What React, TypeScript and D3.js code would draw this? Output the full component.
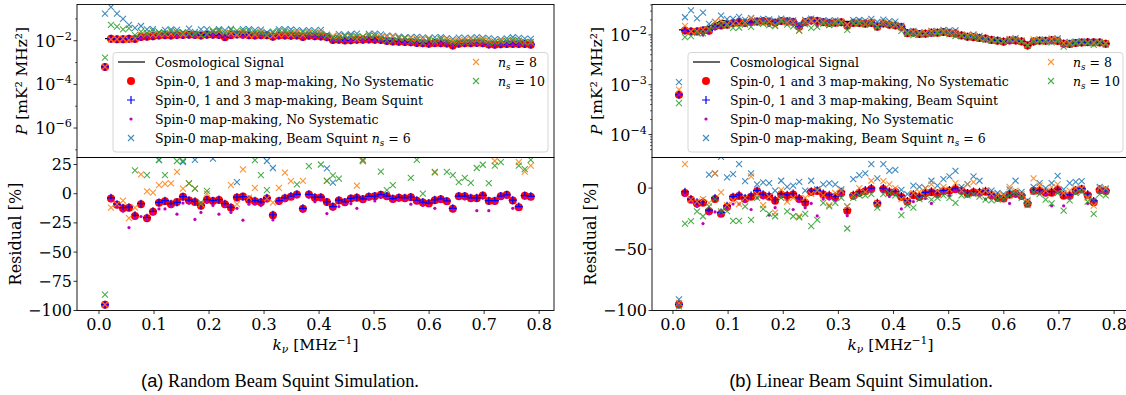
import React from 'react';
import * as d3 from 'd3';

// k_nu grid [MHz^-1]
const K = [
  0.0109, 0.0218, 0.0327, 0.0436, 0.0545, 0.0654, 0.0763, 0.0872, 0.0981, 0.1090,
  0.1199, 0.1308, 0.1417, 0.1526, 0.1635, 0.1744, 0.1853, 0.1962, 0.2071, 0.2180,
  0.2289, 0.2398, 0.2507, 0.2616, 0.2725, 0.2834, 0.2943, 0.3052, 0.3161, 0.3270,
  0.3379, 0.3488, 0.3597, 0.3706, 0.3815, 0.3924, 0.4033, 0.4142, 0.4251, 0.4360,
  0.4469, 0.4578, 0.4687, 0.4796, 0.4905, 0.5014, 0.5123, 0.5232, 0.5341, 0.5450,
  0.5559, 0.5668, 0.5777, 0.5886, 0.5995, 0.6104, 0.6213, 0.6322, 0.6431, 0.6540,
  0.6649, 0.6758, 0.6867, 0.6976, 0.7085, 0.7194, 0.7303, 0.7412, 0.7521, 0.7630,
  0.7739, 0.7848,
];

// cosmological signal P(k) [mK^2 MHz^2]
const SIG = [
  0.0126, 0.0127, 0.0130, 0.0134, 0.0140, 0.0150, 0.0163, 0.0195, 0.0190, 0.0188,
  0.0192, 0.0190, 0.0195, 0.0190, 0.0200, 0.0198, 0.0195, 0.0200, 0.0198, 0.0192,
  0.0160, 0.0205, 0.0200, 0.0195, 0.0190, 0.0185, 0.0190, 0.0186, 0.0188, 0.0185,
  0.0180, 0.0172, 0.0175, 0.0168, 0.0170, 0.0165, 0.0160, 0.0155, 0.0122, 0.0118,
  0.0112, 0.0110, 0.0114, 0.0116, 0.0117, 0.0112, 0.0108, 0.0100, 0.0096, 0.0093,
  0.0090, 0.0087, 0.0084, 0.0083, 0.0080, 0.0082, 0.0081, 0.0079, 0.0070, 0.0075,
  0.0078, 0.0079, 0.0081, 0.0077, 0.0071, 0.0070, 0.0070, 0.0071, 0.0076, 0.0080,
  0.0072, 0.0068,
];

// residuals [%] : spin-0,1,3 no systematic (same in both runs)
const RED = [
  -95, -4, -9.5, -12.5, -12, -19, -9, -21, -15.5, -7.7,
  -6.5, -9, -7, -2.6, -5.8, -7, -10.4, -5.2, -6.2, -5.3,
  -9, -12, -3.2, -2.4, -5.2, -6.5, -7.3, -4, -18.5, -6.2,
  -3.8, -2.5, -0.7, -12.8, -0.7, -3.4, -3.2, -7.2, -11.2, -5.8,
  -7.3, -4.2, -3.4, -4.8, -2.5, -2.1, -0.9, -2.2, -4.5, -3.4,
  -3.8, -3.0, -6.0, -7.6, -8.4, -5.5, -4.7, -6.5, -12.8, -2.1,
  -2.1, -3.8, -3.8, -1.6, -6.2, -6.2, -2.1, -1.0, -5.8, -11.5,
  -1.8, -2.5,
];

// spin-0 map-making, no systematic
const MAG = [
  -95, -6, -11, -15, -29, -21, -19.5, -22, -17, -13,
  -13, -11, -17.5, -8, -8, -22, -16, -7, -10, -17.5,
  -11, -16, -12.5, -22.7, -9, -9, -10, -6, -22.5, -8,
  -6, -4, -2.5, -15, -3, -6.8, -5, -17, -13, -11,
  -9, -8.5, -12.5, -6.5, -4, -6.2, -2.5, -4, -6.5, -5,
  -5.5, -9, -7.5, -10, -10, -12.5, -6.5, -8, -14, -4,
  -4.5, -5.5, -14.5, -3, -14.5, -8, -4, -3, -12.5, -13,
  -3.4, -4,
];

// random beam squint run
const BPLUS_A = [
  -95, -3.5, -9, -12, -11.5, -18.5, -8.5, -20.5, -15, -7.5,
  -6, -8.5, -7.5, -2.5, -5.5, -6.5, -10, -5, -6, -5,
  -8.5, -11.5, -3, -2.5, -5, -6, -7, -3.5, -18, -6,
  -3.5, -2, -0.5, -12.5, -0.5, -3, -3, -7, -11, -5.5,
  -7, -4, -3, -4.5, -2.3, -2, -0.8, -2, -4.2, -3.2,
  -3.5, -2.8, -5.6, -7.2, -8, -5.2, -4.5, -6.2, -12.5, -2,
  -2, -3.5, -3.5, -1.5, -6, -6, -2, -1, -5.5, -11,
  -1.6, -2.2,
];
const NS6_A = [
  1290, 2650, 1230, 650, 280, 160, 190, 70, 80, 29,
  65, 75, 60, 27, 80, 29, 70, 65, 30, 75,
  85, 70, 10, 75, 80, 65, 70, 28, 22, 80,
  85, 90, 75, 70, 80, 75, 95, 21.6, 9.5, 70,
  65, 80, 85, 28, 75, 90, 80, 70, 75, 65,
  60, 70, 80, 70, 65, 75, 80, 65, 70, 85,
  75, 70, 80, 75, 85, 70, 65, 80, 90, 70,
  75, 80,
];
const NS8_A = [
  -95, -12, -9, -6, -21, -12, 16.5, 2, 1, 7.4,
  8.5, 8.8, 18.7, 4.3, 8.8, 4.3, -9, 0, 40, 35,
  45, 7.4, -9, 20.8, -3.4, 5, 38, -4.3, -7.7, 5,
  18, 10.8, 40, 11, 45, 35, 50, 11, 35, 40,
  45, 38, 7, 28, 42, 50, 40, 45, 55, 48,
  42, 50, 45, 40, 48, 18, 45, 50, 40, 42,
  38, 45, 40, 48, 42, 28, 45, 40, 38, 27,
  19, 24,
];
const NS10_A = [
  -86.5, 320, 240, 150, 165, 20, 60, 16, 50, 28.7,
  16, 45, 28, 28, 8.8, 4.3, -7.7, 2.5, 45, 50,
  40, 55, 45, 40, 50, 28.7, 16, 3, 40, 45,
  50, 42, 8, 45, 23.6, 40, 25, 11, 15.7, 13,
  45, 50, 40, 29, 45, 50, 19, 3, 7.4, 40,
  45, 13.6, 29, 0, 40, 18.6, 45, 18.6, 16, 9.9,
  13.6, 9.2, 22, 24.8, 9, 24, 27, 40, 45, 24,
  21, 29,
];

// linear beam squint run
const BPLUS_B = [
  -95, -3, -9, -11.5, -11, -18, -8, -20, -14.5, -7,
  -5.5, -8, -6, -2, -5, -6, -9.5, -4.5, -5.5, -4.5,
  -8, -11, -2.5, -1.8, -4.5, -5.5, -6.5, -3, -17.5, -5.5,
  -3, -1.5, 0, -12, 0, -2.5, -2.5, -6.5, -10.5, -5,
  -6.5, -3.5, -2.5, -4, -1.8, -1.5, 0, -1.5, -4, -2.8,
  -3, -2.2, -5, -6.8, -7.5, -4.8, -4, -5.8, -12, -1.5,
  -1.5, -3, -3, -1, -5.5, -5.5, -1.5, -0.5, -5, -10.5,
  -1, -1.8,
];
const NS6_B = [
  -91, 78, 140, 60, 100, 11, 12, 25.5, 8.7, 11.4,
  19.5, 5.7, 12, 3, 4.7, 4, -2, 6, 1, 2,
  5, -2, 6, -1, 3, 4, 3, -1, -15, 7.3,
  10.6, 12, 19.5, 8, 19.5, 14, 14.9, -1.4, -5, 2,
  1, 0, 6, 2, 7.3, 9.5, 14, 1, 3.3, 9.5,
  6, -2, -2, -4, -5, -1, 6, -3, -10, 1,
  4, 0, 4, 10, -1, 4, 5, 5.7, -7, -10,
  1, -1,
];
const NS8_B = [
  -93.7, 19.5, -9.5, -11, -9, -12, 12, -3.5, -14, -10,
  -13, -8, 9.5, -5, -14, -7, -20, -1.5, -11, -8,
  -23, -8, -5, -2, -6, -14, -4, -2, -15, -6,
  0, -3, 6, -12, 5.7, 3, 0, -9, -10, -4,
  -3, 0, 3, -2, 1, -1, 4, -2, 3, 4.9,
  -3, -2, -5, -6, -6, 1, -2, -5, -11, 7.9,
  2, -2, 1, 3, -4, -2, 0, 0, -8, -14.4,
  0, 0,
];
const NS10_B = [
  -96.6, -29, -27, -19, -23, -15, -9, -19, -18.9, -26.7,
  -26.7, -15, -26, -8, -17, -21, -23, -8, -19, -23,
  -24, -21, -31, -26, -12, -15, -12, -8, -33, -8,
  -6, -6, -5, -16, -5, -4, -6, -22, -14, -16,
  -9, -7, -9.5, -8, -6, -8, -12, -6, -6, -5,
  -7, -9.5, -10, -9.5, -9, -6, -4, -8, -14, -3,
  -5, -9.5, -12.5, -4, -18.4, -10, -4, -3, -11, -21,
  -5, -6,
];

const X_TICKS = [0, 0.1, 0.2, 0.3, 0.4, 0.5, 0.6, 0.7, 0.8];

const FONT = "'DejaVu Serif', serif";
const TAB_BLUE = '#1f77b4';
const TAB_ORANGE = '#ff7f0e';
const TAB_GREEN = '#2ca02c';
const MAGENTA = '#bf00bf';

const PW = 477; // axes width
const TOP0 = 4.5;
const MID = 157.5;
const BOT = 310.5;

function marker(kind: string, cx: number, cy: number, key: any, color?: string) {
  if (kind === 'o') return <circle key={key} cx={cx} cy={cy} r={4} fill="#ff0000" />;
  if (kind === '+')
    return <path key={key} d={`M${cx - 4},${cy}H${cx + 4}M${cx},${cy - 4}V${cy + 4}`} stroke="#0000ff" strokeWidth={1.2} />;
  if (kind === '.') return <circle key={key} cx={cx} cy={cy} r={1.6} fill={MAGENTA} />;
  return (
    <path key={key} d={`M${cx - 3},${cy - 3}L${cx + 3},${cy + 3}M${cx - 3},${cy + 3}L${cx + 3},${cy - 3}`}
      stroke={color} strokeWidth={1.1} opacity={0.85} />
  );
}

function NS({ v }: { v: string }) {
  return (
    <>
      <tspan fontStyle="italic">n</tspan>
      <tspan fontStyle="italic" fontSize="70%" dy={3}>s</tspan>
      <tspan dy={-3}>{' = ' + v}</tspan>
    </>
  );
}

type PanelProps = {
  id: string;
  x0: number;
  xDomain: [number, number];
  topDomain: [number, number];
  majors: number[];
  minors: number[];
  resDomain: [number, number];
  resTicks: number[];
  bplus: number[];
  ns6: number[];
  ns8: number[];
  ns10: number[];
};

function Panel(p: PanelProps) {
  const x = d3.scaleLinear().domain(p.xDomain).range([p.x0, p.x0 + PW]);
  const yT = d3.scaleLog().domain(p.topDomain).range([MID, TOP0]);
  const yR = d3.scaleLinear().domain(p.resDomain).range([BOT, MID]);
  const toP = (r: number[]) => r.map((v, i) => SIG[i] * (1 + v / 100));

  const series: [string, number[], string?][] = [
    ['o', RED],
    ['+', p.bplus],
    ['.', MAG],
    ['x', p.ns6, TAB_BLUE],
    ['x', p.ns8, TAB_ORANGE],
    ['x', p.ns10, TAB_GREEN],
  ];

  const line = d3.line<number>().x((_, i) => x(K[i])).y((d) => yT(d))(SIG) || '';
  const bx = p.x0 + 36;
  const rows = [62, 81, 100, 119, 138];
  const fs = 15.4; // axis labels
  const ts = 16; // tick labels

  return (
    <g fontFamily={FONT} fill="#000">
      <defs>
        <clipPath id={p.id + 't'}><rect x={p.x0} y={TOP0} width={PW} height={MID - TOP0} /></clipPath>
        <clipPath id={p.id + 'b'}><rect x={p.x0} y={MID} width={PW} height={BOT - MID} /></clipPath>
      </defs>

      {/* top: power spectra */}
      <g clipPath={`url(#${p.id}t)`}>
        <path d={line} fill="none" stroke="#000" strokeWidth={1.2} />
        {series.map(([kind, vals, c], s) =>
          toP(vals).map((v, i) => marker(kind, x(K[i]), yT(v), `t${s}-${i}`, c)))}
      </g>

      {/* bottom: residuals */}
      <g clipPath={`url(#${p.id}b)`}>
        {series.map(([kind, vals, c], s) =>
          vals.map((v, i) => marker(kind, x(K[i]), yR(v), `b${s}-${i}`, c)))}
      </g>

      {/* legend */}
      <rect x={bx} y={52.5} width={435} height={99.5} rx={3} fill="#fff" fillOpacity={0.8} stroke="#cccccc" strokeWidth={0.8} />
      <g fontSize={12.5} style={{ whiteSpace: 'pre' }}>
        <line x1={bx + 5} x2={bx + 32} y1={rows[0]} y2={rows[0]} stroke="#000" strokeWidth={1.2} />
        {marker('o', bx + 18, rows[1], 'l1')}
        {marker('+', bx + 18, rows[2], 'l2')}
        {marker('.', bx + 18, rows[3], 'l3')}
        {marker('x', bx + 18, rows[4], 'l4', TAB_BLUE)}
        {marker('x', bx + 363, rows[0], 'l5', TAB_ORANGE)}
        {marker('x', bx + 363, rows[1], 'l6', TAB_GREEN)}
        <text x={bx + 42} y={rows[0] + 4.5}>Cosmological Signal</text>
        <text x={bx + 42} y={rows[1] + 4.5}>Spin-0, 1 and 3 map-making, No Systematic</text>
        <text x={bx + 42} y={rows[2] + 4.5}>Spin-0, 1 and 3 map-making, Beam Squint</text>
        <text x={bx + 42} y={rows[3] + 4.5}>Spin-0 map-making, No Systematic</text>
        <text x={bx + 42} y={rows[4] + 4.5}>Spin-0 map-making, Beam Squint <NS v="6" /></text>
        <text x={bx + 385} y={rows[0] + 4.5}><NS v="8" /></text>
        <text x={bx + 385} y={rows[1] + 4.5}><NS v="10" /></text>
      </g>

      {/* spines */}
      <rect x={p.x0} y={TOP0} width={PW} height={MID - TOP0} fill="none" stroke="#000" strokeWidth={0.9} />
      <rect x={p.x0} y={MID} width={PW} height={BOT - MID} fill="none" stroke="#000" strokeWidth={0.9} />

      {/* x ticks */}
      {X_TICKS.map((t) => (
        <g key={'x' + t}>
          <line x1={x(t)} x2={x(t)} y1={BOT} y2={BOT + 3.5} stroke="#000" strokeWidth={0.8} />
          <text x={x(t)} y={BOT + 19.5} fontSize={ts} textAnchor="middle">{t.toFixed(1)}</text>
        </g>
      ))}
      <text x={p.x0 + PW / 2} y={BOT + 39} fontSize={fs} textAnchor="middle" style={{ whiteSpace: 'pre' }}>
        <tspan fontStyle="italic">k</tspan>
        <tspan fontStyle="italic" fontSize="70%" dy={3}>ν</tspan>
        <tspan dy={-3}>{' [MHz'}</tspan>
        <tspan fontSize="70%" dy={-6}>−1</tspan>
        <tspan dy={6}>]</tspan>
      </text>

      {/* top y ticks (log) */}
      {p.majors.map((e) => (
        <g key={'m' + e}>
          <line x1={p.x0 - 3.5} x2={p.x0} y1={yT(Math.pow(10, e))} y2={yT(Math.pow(10, e))} stroke="#000" strokeWidth={0.8} />
          <text x={p.x0 - 5} y={yT(Math.pow(10, e)) + 6} fontSize={ts} textAnchor="end">
            10<tspan fontSize="70%" dy={-7}>{'−' + Math.abs(e)}</tspan>
          </text>
        </g>
      ))}
      {p.minors.map((v, i) => (
        <line key={'n' + i} x1={p.x0 - 2} x2={p.x0} y1={yT(v)} y2={yT(v)} stroke="#000" strokeWidth={0.6} />
      ))}
      <text transform={`translate(${p.x0 - 50},${(TOP0 + MID) / 2}) rotate(-90)`} fontSize={fs} textAnchor="middle" style={{ whiteSpace: 'pre' }}>
        <tspan fontStyle="italic">P</tspan>{' [mK² MHz²]'}
      </text>

      {/* residual y ticks */}
      {p.resTicks.map((t) => (
        <g key={'r' + t}>
          <line x1={p.x0 - 3.5} x2={p.x0} y1={yR(t)} y2={yR(t)} stroke="#000" strokeWidth={0.8} />
          <text x={p.x0 - 5} y={yR(t) + 5.5} fontSize={ts} textAnchor="end">{t < 0 ? '−' + Math.abs(t) : String(t)}</text>
        </g>
      ))}
      <text transform={`translate(${p.x0 - 56},${(MID + BOT) / 2}) rotate(-90)`} fontSize={16} textAnchor="middle">Residual [%]</text>
    </g>
  );
}

const minorsLeft = [1e-1, 1e-3, 1e-5, 1e-7];
const minorsRight = [
  ...[5, 6, 7, 8, 9].map((m) => m * 1e-5),
  ...[2, 3, 4, 5, 6, 7, 8, 9].map((m) => m * 1e-4),
  ...[2, 3, 4, 5, 6, 7, 8, 9].map((m) => m * 1e-3),
  ...[2, 3, 4].map((m) => m * 1e-2),
];

export default function App() {
  return (
    <div style={{ position: 'absolute', left: 0, top: 0 }}>
      <svg width={1126} height={395} viewBox="0 0 1126 395" style={{ display: 'block', background: '#fff' }}>
        <Panel id="a" x0={77} xDomain={[-0.04, 0.827]} topDomain={[Math.pow(10, -7.35), Math.pow(10, -0.34)]}
          majors={[-2, -4, -6]} minors={minorsLeft} resDomain={[-100, 31]} resTicks={[25, 0, -25, -50, -75, -100]}
          bplus={BPLUS_A} ns6={NS6_A} ns8={NS8_A} ns10={NS10_A} />
        <Panel id="b" x0={652} xDomain={[-0.038, 0.827]} topDomain={[Math.pow(10, -4.46), Math.pow(10, -1.39)]}
          majors={[-2, -3, -4]} minors={minorsRight} resDomain={[-100, 25]} resTicks={[0, -50, -100]}
          bplus={BPLUS_B} ns6={NS6_B} ns8={NS8_B} ns10={NS10_B} />
        <text x={280} y={387} fontSize={18.3} textAnchor="middle" style={{ whiteSpace: 'pre' }}>
          <tspan fontFamily="'Liberation Sans', sans-serif">(a)</tspan>
          <tspan fontFamily="'Liberation Serif', serif">{' Random Beam Squint Simulation.'}</tspan>
        </text>
        <text x={861} y={387} fontSize={18.3} textAnchor="middle" style={{ whiteSpace: 'pre' }}>
          <tspan fontFamily="'Liberation Sans', sans-serif">(b)</tspan>
          <tspan fontFamily="'Liberation Serif', serif">{' Linear Beam Squint Simulation.'}</tspan>
        </text>
      </svg>
    </div>
  );
}
